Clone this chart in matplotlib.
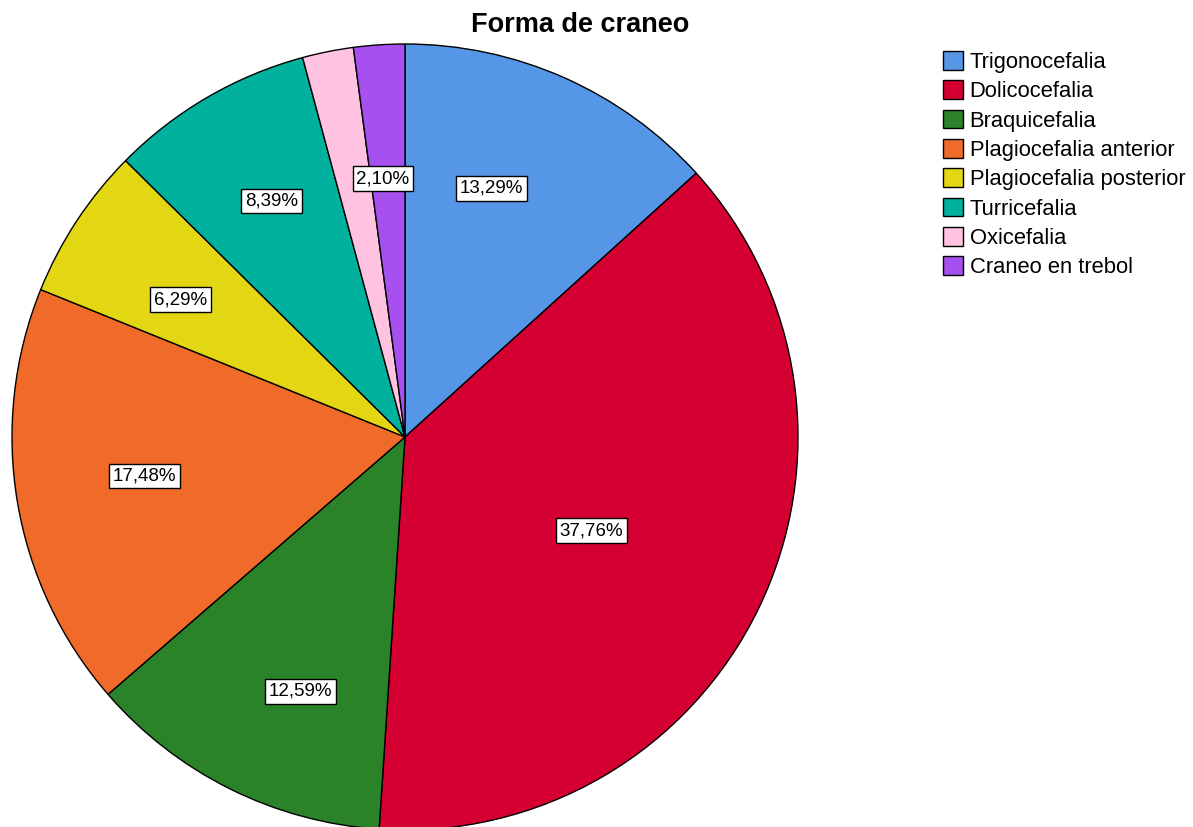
import numpy as np
import matplotlib
matplotlib.use("Agg")
import matplotlib.pyplot as plt

# Skull shape categories and patient counts (n = 143)
categories = ["Trigonocefalia", "Dolicocefalia", "Braquicefalia",
              "Plagiocefalia anterior", "Plagiocefalia posterior",
              "Turricefalia", "Oxicefalia", "Craneo en trebol"]
counts = [19, 54, 18, 25, 9, 12, 3, 3]
colors = ["#5596E6", "#D50032", "#2A8328", "#F06A2A",
          "#E3D714", "#00B29E", "#FFC3E1", "#A650F0"]
# label placement: radial fraction and angular nudge (deg); None = hidden
label_dist = [0.67, 0.53, 0.70, 0.67, 0.67, 0.69, None, 0.66]
label_shift = [4.7, -0.9, 4.1, -0.9, 1.9, -0.7, 0.0, 1.1]

plt.rcParams["font.family"] = ["Liberation Sans", "DejaVu Sans"]

W, H = 1193, 827
fig = plt.figure(figsize=(W / 100, H / 100), dpi=100)
cx, cy, r = 405, 437, 393
ax = fig.add_axes([(cx - r) / W, (H - cy - r) / H, 2 * r / W, 2 * r / H])

wedges, _ = ax.pie(counts, colors=colors, startangle=90, counterclock=False,
                   radius=1.0, wedgeprops=dict(edgecolor="black", linewidth=1.0))
ax.set_xlim(-1, 1)
ax.set_ylim(-1, 1)
ax.set_aspect("equal")
ax.axis("off")
for w in wedges:
    w.set_clip_on(False)

total = sum(counts)
for w, c, d, s in zip(wedges, counts, label_dist, label_shift):
    if d is None:
        continue
    ang = np.deg2rad((w.theta1 + w.theta2) / 2 + s)
    pct = f"{100 * c / total:.2f}%".replace(".", ",")
    ax.text(d * np.cos(ang), d * np.sin(ang), pct, ha="center", va="center",
            fontsize=13.5, color="black",
            bbox=dict(boxstyle="square,pad=0.2", facecolor="white",
                      edgecolor="black", linewidth=1.0))

fig.text(580 / W, 1 - 25 / H, "Forma de craneo", ha="center", va="center",
         fontsize=19.5, fontweight="bold")

leg = fig.legend(wedges, categories, loc="upper left",
                 bbox_to_anchor=(943 / W, 1 - 51 / H), frameon=False,
                 fontsize=15.8, handlelength=0.93, handleheight=0.93,
                 handletextpad=0.28, labelspacing=0.34, borderaxespad=0,
                 borderpad=0)

fig.savefig("out.png", dpi=100)
